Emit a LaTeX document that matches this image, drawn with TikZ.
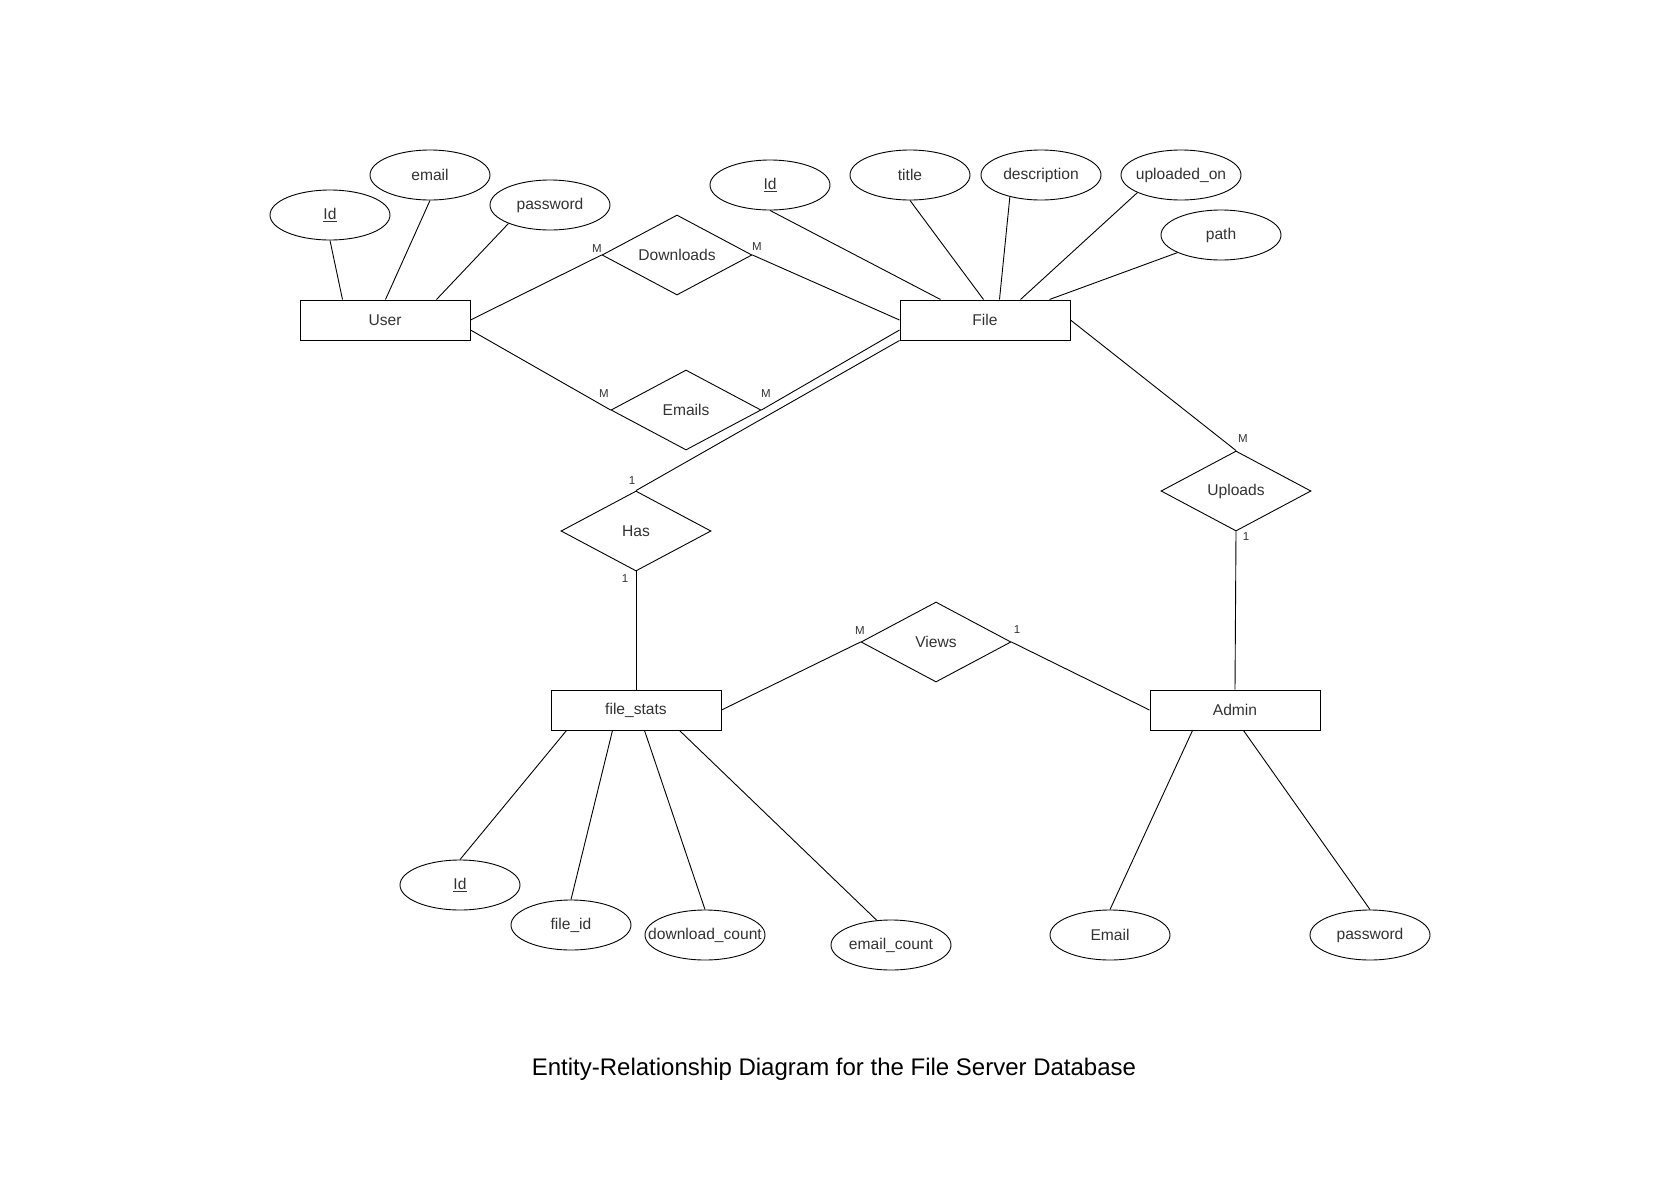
\documentclass[tikz,border=0pt]{standalone}
\usepackage{fontspec}
\setmainfont{Liberation Sans}
\usetikzlibrary{shapes.geometric,calc}
\definecolor{txt}{gray}{0.2}
\newcommand{\attxt}[1]{\makebox[0pt]{#1}}
\begin{document}
\begin{tikzpicture}[x=1pt,y=-1pt,
  ent/.style={draw, line width=1pt, rectangle, minimum width=170pt, minimum height=40pt, inner sep=0pt, font=\fontsize{15.6}{18}\selectfont, text=txt},
  attr/.style={draw, line width=0.9pt, ellipse, minimum width=120pt, minimum height=50pt, inner sep=0pt, font=\fontsize{15.6}{18}\selectfont, text=txt},
  rel/.style={draw, line width=0.9pt, diamond, minimum width=150pt, minimum height=80pt, inner sep=0pt, font=\fontsize{15.6}{18}\selectfont, text=txt},
  card/.style={inner sep=0pt, font=\fontsize{11.5}{13}\selectfont, text=txt},
  conn/.style={line width=0.9pt},
  ttl/.style={inner sep=0pt, anchor=base, font=\fontsize{24}{28}\selectfont, text=black}]
\fill[white] (0,0) rectangle (1674,1189);
\useasboundingbox (0,0) rectangle (1674,1189);

% entities
\node[ent] (user) at (385,320) {User};
\node[ent] (file) at (985,320) {File};
\node[ent] (fs) at (636,710) {file\_stats};
\node[ent] (admin) at (1235,710) {Admin};

% relationships
\node[rel] (dl) at (677,255) {\attxt{Downloads}};
\node[rel] (em) at (686,410) {\attxt{Emails}};
\node[rel] (has) at (636,531) {\attxt{Has}};
\node[rel] (up) at (1236,491) {\attxt{Uploads}};
\node[rel] (vw) at (936,642) {\attxt{Views}};

% user attributes
\node[attr] (uid) at (330,215) {\attxt{\underline{Id}}};
\node[attr] (uemail) at (430,175) {\attxt{email}};
\node[attr] (upw) at (550,205) {\attxt{password}};

% file attributes
\node[attr] (fid) at (770,185) {\attxt{\underline{Id}}};
\node[attr] (ftitle) at (910,175) {\attxt{title}};
\node[attr] (fdesc) at (1041,175) {\attxt{description}};
\node[attr] (fup) at (1181,175) {\attxt{uploaded\_on}};
\node[attr] (fpath) at (1221,235) {\attxt{path}};

% file_stats attributes
\node[attr] (sid) at (460,885) {\attxt{\underline{Id}}};
\node[attr] (sfid) at (571,925) {\attxt{file\_id}};
\node[attr] (sdc) at (705,935) {\attxt{download\_count}};
\node[attr] (sec) at (891,945) {\attxt{email\_count}};

% admin attributes
\node[attr] (aemail) at (1110,935) {\attxt{Email}};
\node[attr] (apw) at (1370,935) {\attxt{password}};

% attribute connectors
\draw[conn] (uid.south) -- ($(user.north west)+(43,0)$);
\draw[conn] (uemail.south) -- ($(user.north west)+(86,0)$);
\draw[conn] (upw.204) -- ($(user.north west)+(137,0)$);

\draw[conn] (fid.south) -- ($(file.north west)+(41,0)$);
\draw[conn] (ftitle.south) -- ($(file.north west)+(84,0)$);
\draw[conn] (fdesc.215) -- ($(file.north west)+(100,0)$);
\draw[conn] (fup.202) -- ($(file.north west)+(121,0)$);
\draw[conn] (fpath.202) -- ($(file.north west)+(150,0)$);

\draw[conn] ($(fs.south west)+(16,0)$) -- (sid.north);
\draw[conn] ($(fs.south west)+(62,0)$) -- (sfid.north);
\draw[conn] ($(fs.south west)+(94,0)$) -- (sdc.north);
\draw[conn] ($(fs.south west)+(129,0)$) -- (sec.120);

\draw[conn] ($(admin.south west)+(43,0)$) -- (aemail.north);
\draw[conn] ($(admin.south west)+(94,0)$) -- (apw.north);

% relationship connectors
\draw[conn] (user.east) -- (dl.west);
\draw[conn] (dl.east) -- (file.west);
\draw[conn] ($(user.east)+(0,10)$) -- (em.west);
\draw[conn] (em.east) -- ($(file.west)+(0,10)$);
\draw[conn] (file.south west) -- (has.north);
\draw[conn] (has.south) -- (fs.north);
\draw[conn] (file.east) -- (up.north);
\draw[conn] (up.south) -- (admin.north);
\draw[conn] (fs.east) -- (vw.west);
\draw[conn] (vw.east) -- (admin.west);

% cardinalities
\node[card] (c1) at (597,249) {M};
\node[card] (c2) at (757,247) {M};
\node[card] (c3) at (604,394) {M};
\node[card] (c4) at (766,394) {M};
\node[card] (c5) at (632,481) {1};
\node[card] (c6) at (625,579) {1};
\node[card] (c7) at (1243,439) {M};
\node[card] (c8) at (1246,537) {1};
\node[card] (c9) at (860,631) {M};
\node[card] (c10) at (1017,630) {1};

% title
\node[ttl] (title) at (834,1075) {Entity-Relationship Diagram for the File Server Database};
\end{tikzpicture}
\end{document}
